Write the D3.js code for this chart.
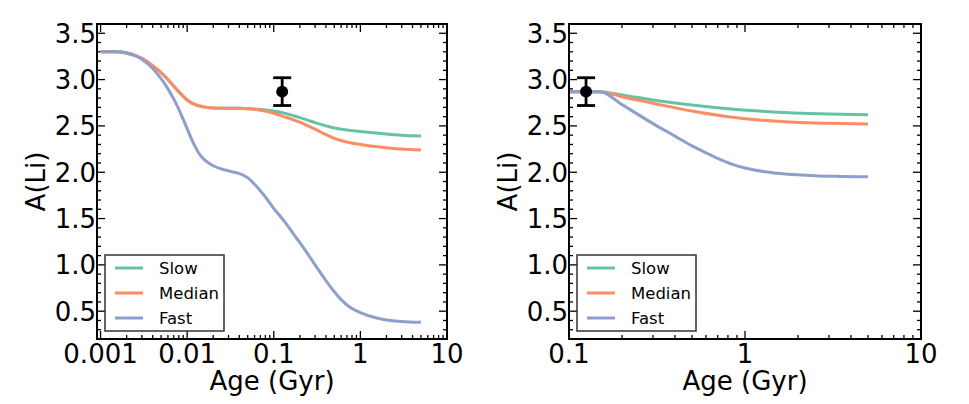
<!DOCTYPE html>
<html>
<head>
<meta charset="utf-8">
<script src="https://cdn.jsdelivr.net/npm/d3@7"></script>
<style>
  body { margin: 0; background: #fff; }
  svg { display: block; font-family: "DejaVu Sans", sans-serif; }
</style>
</head>
<body>
<svg id="chart" width="969" height="404"></svg>
<script>
// series names and colours
var seriesNames = ['Slow', 'Median', 'Fast'];
var seriesColors = ['#66c2a5', '#fc8d62', '#8da0cb'];

// left panel: full evolution from 1 Myr
var leftAge    = [0.001, 0.0015, 0.002, 0.003, 0.004, 0.005, 0.006, 0.007, 0.008, 0.01, 0.012, 0.014, 0.017, 0.02, 0.03, 0.04, 0.05, 0.065, 0.08, 0.1, 0.13, 0.17, 0.2, 0.25, 0.3, 0.4, 0.5, 0.7, 1, 1.5, 2, 3, 5];
var leftSlow   = [3.30, 3.30, 3.29, 3.23, 3.15, 3.075, 3.00, 2.93, 2.87, 2.78, 2.735, 2.715, 2.70, 2.693, 2.69, 2.69, 2.685, 2.68, 2.672, 2.66, 2.64, 2.61, 2.59, 2.56, 2.535, 2.50, 2.478, 2.455, 2.44, 2.423, 2.412, 2.399, 2.39];
var leftMedian = [3.30, 3.30, 3.29, 3.23, 3.15, 3.075, 3.00, 2.93, 2.87, 2.78, 2.735, 2.715, 2.70, 2.693, 2.69, 2.69, 2.685, 2.675, 2.66, 2.635, 2.60, 2.565, 2.54, 2.50, 2.465, 2.405, 2.365, 2.325, 2.30, 2.277, 2.265, 2.25, 2.24];
var leftFastAge = [0.001, 0.0015, 0.002, 0.003, 0.004, 0.005, 0.006, 0.007, 0.008, 0.009, 0.01, 0.012, 0.014, 0.016, 0.02, 0.025, 0.03, 0.035, 0.04, 0.045, 0.05, 0.06, 0.07, 0.085, 0.1, 0.13, 0.17, 0.2, 0.25, 0.3, 0.4, 0.5, 0.6, 0.75, 1, 1.5, 2, 3, 5];
var leftFast    = [3.30, 3.30, 3.285, 3.22, 3.12, 3.01, 2.90, 2.79, 2.68, 2.57, 2.47, 2.30, 2.19, 2.13, 2.07, 2.035, 2.015, 2.00, 1.985, 1.965, 1.94, 1.87, 1.80, 1.70, 1.61, 1.48, 1.33, 1.24, 1.11, 1.00, 0.83, 0.71, 0.625, 0.545, 0.485, 0.43, 0.405, 0.39, 0.38];

// right panel: evolution from the cluster age
var rightAge    = [0.1, 0.15, 0.2, 0.3, 0.5, 0.8, 1.2, 1.9, 3, 5];
var rightSlow   = [2.87, 2.87, 2.835, 2.78, 2.725, 2.685, 2.66, 2.64, 2.628, 2.62];
var rightMedian = [2.87, 2.87, 2.815, 2.745, 2.66, 2.60, 2.565, 2.54, 2.528, 2.52];
var rightFastAge = [0.1, 0.15, 0.2, 0.3, 0.4, 0.5, 0.6, 0.7, 0.85, 1, 1.3, 1.7, 2.5, 3.5, 5];
var rightFast   = [2.87, 2.87, 2.73, 2.525, 2.39, 2.285, 2.21, 2.15, 2.085, 2.045, 2.005, 1.98, 1.962, 1.955, 1.95];

// observed point
var obsAge = 0.125;
var obsLi = 2.87;
var obsErr = 0.15;

// axes
var yTicks = [0.5, 1.0, 1.5, 2.0, 2.5, 3.0, 3.5];
var leftXTicks = [0.001, 0.01, 0.1, 1, 10];
var leftXLabels = ['0.001', '0.01', '0.1', '1', '10'];
var rightXTicks = [0.1, 1, 10];
var rightXLabels = ['0.1', '1', '10'];

var svg = d3.select('#chart');
var plotTop = 24, plotBottom = 339;

function minorLog(domain){
  var out = [];
  for (var e = -4; e <= 1; e++){
    for (var m = 2; m <= 9; m++){
      var v = m * Math.pow(10, e);
      if (v > domain[0] && v < domain[1]) out.push(v);
    }
  }
  return out;
}

function drawPanel(opts){
  var x = d3.scaleLog().domain(opts.domain).range([opts.left, opts.right]);
  var y = d3.scaleLinear().domain([0.2, 3.6]).range([plotBottom, plotTop]);
  var g = svg.append('g');

  // ticks, inward on all four sides
  var ticks = g.append('g').attr('stroke', '#000').attr('stroke-width', 1.3);
  var yMinor = d3.range(3, 36).map(function(d){ return d / 10; })
    .filter(function(d){ return Math.round(d * 10) % 5 !== 0; });
  yMinor.forEach(function(v){
    ticks.append('line').attr('x1', opts.left).attr('x2', opts.left + 4).attr('y1', y(v)).attr('y2', y(v));
    ticks.append('line').attr('x1', opts.right).attr('x2', opts.right - 4).attr('y1', y(v)).attr('y2', y(v));
  });
  yTicks.forEach(function(v){
    ticks.append('line').attr('x1', opts.left).attr('x2', opts.left + 8).attr('y1', y(v)).attr('y2', y(v));
    ticks.append('line').attr('x1', opts.right).attr('x2', opts.right - 8).attr('y1', y(v)).attr('y2', y(v));
  });
  minorLog(opts.domain).forEach(function(v){
    ticks.append('line').attr('x1', x(v)).attr('x2', x(v)).attr('y1', plotBottom).attr('y2', plotBottom - 4);
    ticks.append('line').attr('x1', x(v)).attr('x2', x(v)).attr('y1', plotTop).attr('y2', plotTop + 4);
  });
  opts.xTicks.forEach(function(v){
    ticks.append('line').attr('x1', x(v)).attr('x2', x(v)).attr('y1', plotBottom).attr('y2', plotBottom - 8);
    ticks.append('line').attr('x1', x(v)).attr('x2', x(v)).attr('y1', plotTop).attr('y2', plotTop + 8);
  });

  // tick labels
  g.selectAll('.ylab').data(yTicks).enter().append('text')
    .attr('x', opts.left - 1).attr('y', function(d){ return y(d) + 9.5; })
    .attr('text-anchor', 'end').attr('font-size', 26)
    .text(function(d){ return d.toFixed(1); });
  g.selectAll('.xlab').data(opts.xTicks).enter().append('text')
    .attr('x', function(d){ return x(d); }).attr('y', 363)
    .attr('text-anchor', 'middle').attr('font-size', 26)
    .text(function(d, i){ return opts.xLabels[i]; });

  // axis titles
  g.append('text')
    .attr('transform', 'translate(' + (opts.left - 52) + ',' + ((plotTop + plotBottom) / 2) + ') rotate(-90)')
    .attr('text-anchor', 'middle').attr('font-size', 26).text('A(Li)');
  g.append('text')
    .attr('x', (opts.left + opts.right) / 2).attr('y', 390)
    .attr('text-anchor', 'middle').attr('font-size', 26).text('Age (Gyr)');

  // model curves
  var line = d3.line()
    .x(function(d){ return x(d[0]); })
    .y(function(d){ return y(d[1]); })
    .curve(d3.curveMonotoneX);
  opts.series.forEach(function(s, i){
    g.append('path')
      .datum(d3.zip(s.age, s.li))
      .attr('d', line)
      .attr('fill', 'none')
      .attr('stroke', seriesColors[i])
      .attr('stroke-width', 3);
  });

  // observation with error bar
  var px = x(obsAge);
  var eb = g.append('g').attr('stroke', '#000').attr('stroke-width', 2.8);
  eb.append('line').attr('x1', px).attr('x2', px).attr('y1', y(obsLi + obsErr)).attr('y2', y(obsLi - obsErr));
  eb.append('line').attr('x1', px - 9).attr('x2', px + 9).attr('y1', y(obsLi + obsErr)).attr('y2', y(obsLi + obsErr));
  eb.append('line').attr('x1', px - 9).attr('x2', px + 9).attr('y1', y(obsLi - obsErr)).attr('y2', y(obsLi - obsErr));
  g.append('circle').attr('cx', px).attr('cy', y(obsLi)).attr('r', 6).attr('fill', '#000');

  // frame
  g.append('rect')
    .attr('x', opts.left).attr('y', plotTop)
    .attr('width', opts.right - opts.left).attr('height', plotBottom - plotTop)
    .attr('fill', 'none').attr('stroke', '#000').attr('stroke-width', 2);

  // legend
  var lx = opts.left + 8, ly = 255;
  var leg = g.append('g');
  leg.append('rect').attr('x', lx).attr('y', ly).attr('width', 119).attr('height', 76)
    .attr('fill', '#fff').attr('stroke', '#333').attr('stroke-width', 1.5);
  seriesNames.forEach(function(name, i){
    var yy = ly + 13 + i * 25;
    leg.append('line').attr('x1', lx + 10).attr('x2', lx + 38).attr('y1', yy).attr('y2', yy)
      .attr('stroke', seriesColors[i]).attr('stroke-width', 3);
    leg.append('text').attr('x', lx + 54).attr('y', yy + 6)
      .attr('font-size', 16.5).text(name);
  });
}

drawPanel({
  left: 97, right: 447,
  domain: [0.00091, 10],
  xTicks: leftXTicks, xLabels: leftXLabels,
  series: [
    {age: leftAge, li: leftSlow},
    {age: leftAge, li: leftMedian},
    {age: leftFastAge, li: leftFast}
  ]
});

drawPanel({
  left: 569, right: 921,
  domain: [0.1, 10],
  xTicks: rightXTicks, xLabels: rightXLabels,
  series: [
    {age: rightAge, li: rightSlow},
    {age: rightAge, li: rightMedian},
    {age: rightFastAge, li: rightFast}
  ]
});
</script>
</body>
</html>
